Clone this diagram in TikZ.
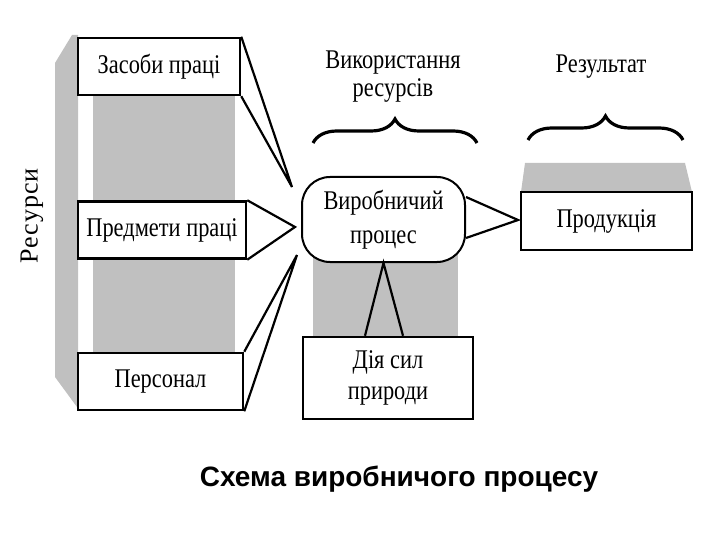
\documentclass[tikz,border=0pt]{standalone}
\usepackage{fontspec}
\setmainfont{Liberation Serif}
\newfontfamily\narrowserif[FakeStretch=0.83]{Liberation Serif}
\newfontfamily\spacedserif[LetterSpace=4]{Liberation Serif}
\newfontfamily\captionsans{Liberation Sans}
\usetikzlibrary{positioning, calc, decorations.pathreplacing}
\definecolor{shade}{RGB}{192,192,192}
\tikzset{
    resbox/.style={rectangle, draw, line width=2.5pt, fill=white, minimum width=165pt, minimum height=57pt, inner sep=0pt, font=\narrowserif\fontsize{27}{32}\selectfont},
    procbox/.style={rectangle, draw, line width=2pt, fill=white, rounded corners=28pt, minimum width=163pt, minimum height=85pt, inner sep=0pt, align=center, font=\narrowserif\fontsize{27}{34}\selectfont},
    heading/.style={align=center, inner sep=0pt, font=\narrowserif\fontsize{27}{28}\selectfont},
    wedge/.style={line width=2.2pt, line join=miter},
    curly/.style={line width=3.2pt, decorate, decoration={brace, amplitude=24pt}},
    column/.style={fill=shade, draw=none},
}

\begin{document}
\begin{tikzpicture}[x=1pt, y=-1pt]
    \useasboundingbox (0,0) rectangle (720,540);

    % Gray columns behind the boxes
    \fill[column] (55,63) -- (72,35) -- (78,35) -- (78,407) -- (77,407) -- (55,377) -- cycle;
    \fill[column] (93,40) rectangle (235,400);
    \fill[column] (313,250) rectangle (458,340);
    \fill[column] (525,163) -- (685,163) -- (692,192) -- (521,192) -- cycle;

    % Side label
    \node[rotate=90, inner sep=0pt, font=\spacedserif\fontsize{26}{26}\selectfont] (res) at (32,216) {Ресурси};

    % Resources
    \node[resbox, minimum width=162pt] (zasoby) at (159,66.5) {Засоби праці};
    \node[resbox, minimum width=168pt, below=104pt of zasoby, xshift=3pt] (predm) {Предмети праці};
    \node[resbox, below=92pt of predm, xshift=-1.5pt] (pers) {Персонал};

    % Process, nature and result
    \node[procbox] (proc) at (383.5,219.5) {Виробничий\\процес};
    \node[resbox, minimum width=170pt, minimum height=82pt, align=center, font=\narrowserif\fontsize{27}{31}\selectfont] (dia) at (388,378) {Дія сил\\природи};
    \node[resbox, minimum width=171pt, minimum height=58pt] (prod) at (606.5,221) {Продукція};

    % Headings with braces
    \node[heading] (use) at (393,77) {Використання\\ресурсів};
    \node[heading] (result) at (601,67) {Результат};
    \coordinate (ubl) at (313,143);
    \coordinate (ubr) at (477,143);
    \coordinate (rbl) at (528,140);
    \coordinate (rbr) at (683,140);
    \draw[curly] (ubl) -- (ubr);
    \draw[curly] (rbl) -- (rbr);

    % Wedges into the process
    \coordinate (tipz) at (292,187);
    \coordinate (tipp) at (295,227);
    \coordinate (tipc) at (297,255);
    \coordinate (tipr) at (518,220);
    \draw[wedge] (zasoby.north east) -- (tipz) -- (zasoby.south east);
    \draw[wedge] (predm.north east) -- (tipp) -- (predm.south east);
    \draw[wedge] (pers.north east) -- (tipc) -- (pers.south east);
    \draw[wedge] ($(proc.east)+(0,-22.5)$) -- (tipr) -- ($(proc.east)+(0,18.5)$);
    \draw[wedge] ($(dia.north)+(-23,0)$) -- (proc.south) -- ($(dia.north)+(15,0)$);

    % Caption
    \node[font=\captionsans\bfseries\fontsize{28}{30}\selectfont] (caption) at (399,479) {Схема виробничого процесу};
\end{tikzpicture}
\end{document}
